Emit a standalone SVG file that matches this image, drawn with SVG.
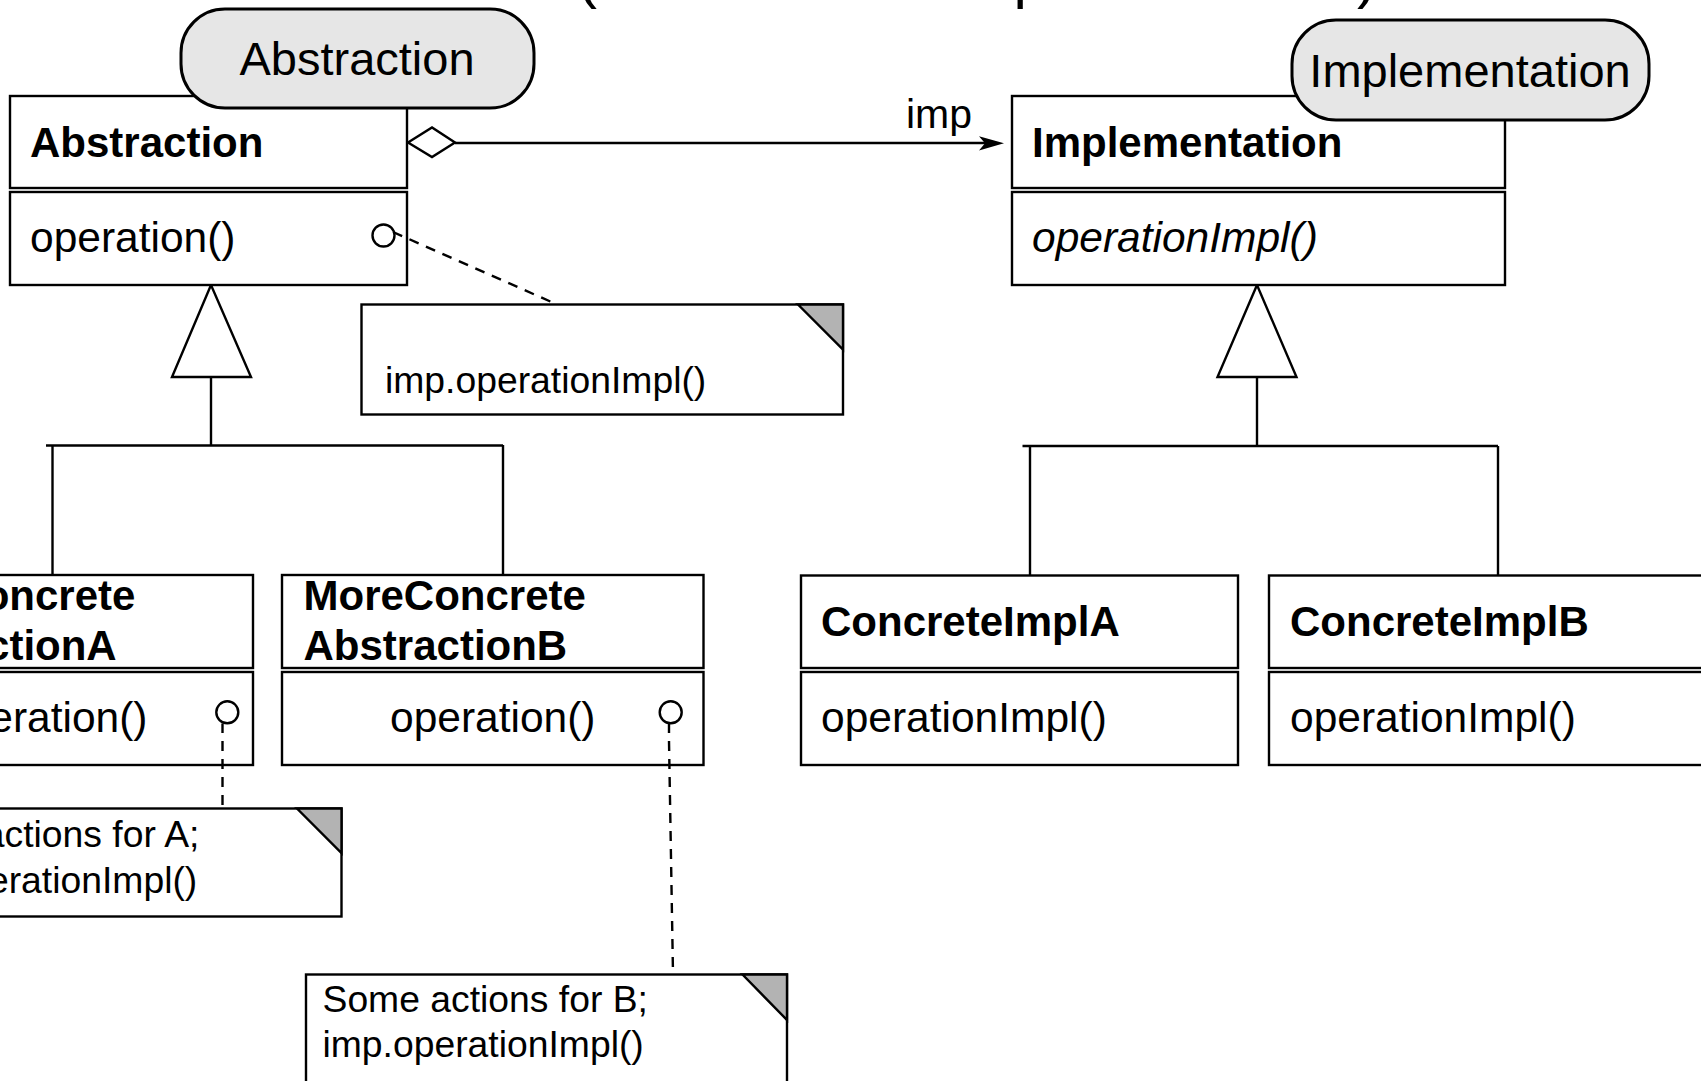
<svg xmlns="http://www.w3.org/2000/svg" width="1701" height="1081" viewBox="0 0 1701 1081">
<style>
  text { font-family: "Liberation Sans", Arial, Helvetica, sans-serif; fill: #000; }
  .cls { font-size: 42px; font-weight: bold; }
  .op { font-size: 42.5px; }
  .it { font-size: 42.5px; font-style: italic; }
  .note { font-size: 37.3px; }
  .lbl { font-size: 47px; text-anchor: middle; }
  .box { fill: #fff; stroke: #000; stroke-width: 2.4; }
  .pill { fill: #e6e6e6; stroke: #000; stroke-width: 3; }
  .ln { fill: none; stroke: #000; stroke-width: 2.4; }
  .dash { fill: none; stroke: #000; stroke-width: 2.4; stroke-dasharray: 10 8; }
  .fold { fill: #b3b3b3; stroke: #000; stroke-width: 2.4; stroke-linejoin: miter; }
  .hollow { fill: #fff; stroke: #000; stroke-width: 2.4; }
</style>
<rect x="0" y="0" width="1701" height="1081" fill="#fff"/>

<text id="title" x="577" y="-3" style="font-size:60px" textLength="800" lengthAdjust="spacing">(Abstraction / Implementation)</text>

<g id="connectors">
  <!-- aggregation imp -->
  <line class="ln" x1="455" y1="143" x2="995" y2="143"/>
  <polygon points="1004,143.3 979,136.3 985,143.3 979,150.5" fill="#000"/>
  <polygon class="hollow" points="408,142.5 432,127.5 455,142.5 432,157"/>
  <text x="906" y="128" style="font-size:41px">imp</text>
  <!-- generalization abstraction -->
  <line class="ln" x1="211" y1="377" x2="211" y2="446"/>
  <line class="ln" x1="46" y1="445.5" x2="503" y2="445.5"/>
  <line class="ln" x1="52.5" y1="445" x2="52.5" y2="576"/>
  <line class="ln" x1="503" y1="445" x2="503" y2="576"/>
  <polygon class="hollow" points="211,285 172,377 251,377"/>
  <!-- generalization implementation -->
  <line class="ln" x1="1257" y1="377" x2="1257" y2="447"/>
  <line class="ln" x1="1022.5" y1="446" x2="1498" y2="446"/>
  <line class="ln" x1="1030" y1="446" x2="1030" y2="576"/>
  <line class="ln" x1="1498" y1="446" x2="1498" y2="576"/>
  <polygon class="hollow" points="1257,285 1217.5,377 1296.5,377"/>
</g>

<g id="abstraction">
  <rect class="box" x="10" y="96" width="397" height="92"/>
  <rect class="box" x="10" y="192" width="397" height="93"/>
  <text class="cls" x="30" y="157">Abstraction</text>
  <text class="op" x="30" y="252">operation()</text>
  <circle class="ln" cx="383.5" cy="235.5" r="11"/>
</g>

<g id="abstraction-label">
  <rect class="pill" x="181" y="9" width="353" height="99" rx="44" ry="44"/>
  <text class="lbl" x="357" y="75">Abstraction</text>
</g>

<g id="implementation">
  <rect class="box" x="1012" y="96" width="493" height="92"/>
  <rect class="box" x="1012" y="192" width="493" height="93"/>
  <text class="cls" x="1032" y="157">Implementation</text>
  <text class="it" x="1032" y="252">operationImpl()</text>
</g>

<g id="implementation-label">
  <rect class="pill" x="1292" y="20" width="357" height="100" rx="44" ry="44"/>
  <text class="lbl" x="1470" y="87">Implementation</text>
</g>

<g id="note-abstraction">
  <line class="dash" x1="393" y1="232" x2="556" y2="304"/>
  <rect class="box" x="361.5" y="304.5" width="481.5" height="110"/>
  <polygon class="fold" points="798,304.5 843,304.5 843,349.5"/>
  <text class="note" x="385" y="393">imp.operationImpl()</text>
</g>

<g id="more-concrete-a">
  <rect class="box" x="-170" y="575" width="423" height="93"/>
  <rect class="box" x="-170" y="672" width="423" height="93"/>
  <text class="cls" x="-147" y="610">MoreConcrete</text>
  <text class="cls" x="-147" y="660">AbstractionA</text>
  <text class="op" x="-58" y="732">operation()</text>
  <circle class="ln" cx="227.3" cy="712.3" r="11"/>
</g>

<g id="more-concrete-b">
  <rect class="box" x="282" y="575" width="421.5" height="93"/>
  <rect class="box" x="282" y="672" width="421.5" height="93"/>
  <text class="cls" x="303.5" y="610">MoreConcrete</text>
  <text class="cls" x="303.5" y="660">AbstractionB</text>
  <text class="op" x="390" y="732">operation()</text>
  <circle class="ln" cx="670.7" cy="712.3" r="11"/>
</g>

<g id="note-a">
  <line class="ln" x1="222.5" y1="723.5" x2="222.5" y2="733"/>
  <line class="dash" x1="222.5" y1="741" x2="222.5" y2="808"/>
  <rect class="box" x="-140" y="808.5" width="481.5" height="108"/>
  <polygon class="fold" points="297,808.5 341.5,808.5 341.5,853"/>
  <text class="note" x="-124" y="847">Some actions for A;</text>
  <text class="note" x="-124" y="893">imp.operationImpl()</text>
</g>

<g id="note-b">
  <line class="ln" x1="669" y1="723.5" x2="669" y2="733"/>
  <line class="dash" x1="669" y1="741" x2="673" y2="974"/>
  <rect class="box" x="306" y="974.5" width="481" height="130"/>
  <polygon class="fold" points="742.5,974.5 787,974.5 787,1020"/>
  <text class="note" x="322.5" y="1012">Some actions for B;</text>
  <text class="note" x="322.5" y="1057">imp.operationImpl()</text>
</g>

<g id="concrete-impl-a">
  <rect class="box" x="801" y="575.5" width="437" height="92.5"/>
  <rect class="box" x="801" y="672" width="437" height="93"/>
  <text class="cls" x="821" y="636">ConcreteImplA</text>
  <text class="op" x="821" y="732">operationImpl()</text>
</g>

<g id="concrete-impl-b">
  <rect class="box" x="1269" y="575.5" width="500" height="92.5"/>
  <rect class="box" x="1269" y="672" width="500" height="93"/>
  <text class="cls" x="1290" y="636">ConcreteImplB</text>
  <text class="op" x="1290" y="732">operationImpl()</text>
</g>
</svg>
